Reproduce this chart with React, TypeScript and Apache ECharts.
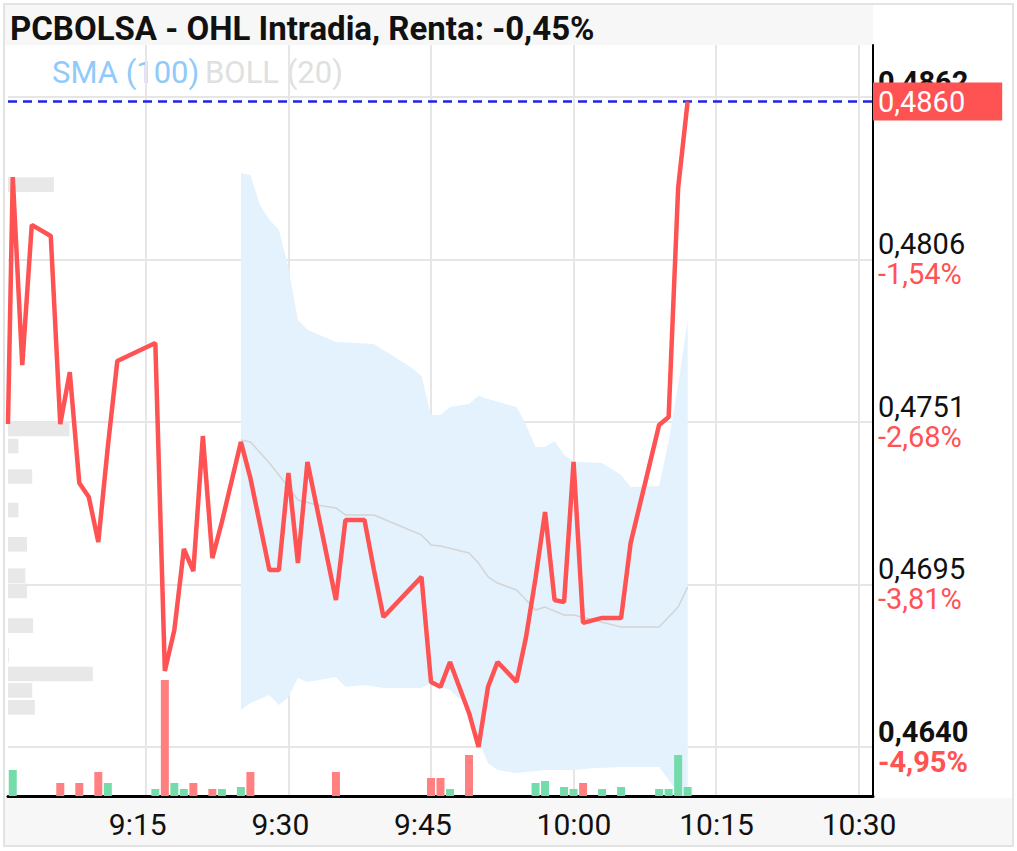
import React, { useEffect, useRef } from "react";
import * as echarts from "echarts";

const TITLE = "PCBOLSA - OHL Intradia, Renta: -0,45%";
const LEGEND_SMA = "SMA (100)";
const LEGEND_BOLL = "BOLL (20)";

// minutes since 9:00
const xTickValues = [15, 30, 45, 60, 75, 90];
const xTickLabels = ["9:15", "9:30", "9:45", "10:00", "10:15", "10:30"];

const yTickValues = [0.464, 0.46954, 0.47508, 0.48062, 0.48616];
const yTickLabels = ["0,4640", "0,4695", "0,4751", "0,4806", "0,4862"];
const yTickPercents = ["-4,95%", "-3,81%", "-2,68%", "-1,54%", " "];
const yTickBold = [true, false, false, false, true];

const lastPrice = 0.486;
const lastPriceLabel = "0,4860";

const pricePoints: [number, number][] = [
  [0.5, 0.47501], [1, 0.48343], [2, 0.47702], [3, 0.4818], [5, 0.48142], [6, 0.47501],
  [7, 0.47678], [8, 0.473], [9, 0.47252], [10, 0.47099], [11, 0.47423], [12, 0.47716],
  [16, 0.47777], [17, 0.46659], [18, 0.46799], [19, 0.47075], [20, 0.47], [21, 0.4746],
  [22, 0.47044], [23, 0.47167], [25, 0.4744], [26, 0.47317], [28, 0.47003], [29, 0.47003],
  [30, 0.47334], [31, 0.47027], [32, 0.47372], [35, 0.46901], [36, 0.47174], [38, 0.47174],
  [39, 0.47003], [40, 0.46843], [44, 0.4698], [45, 0.46622], [46, 0.46605], [47, 0.4669],
  [49, 0.46516], [50, 0.464], [51, 0.46605], [52, 0.4669], [54, 0.46622], [55, 0.46775],
  [56, 0.46976], [57, 0.47201], [58, 0.46901], [59, 0.46894], [60, 0.47372], [61, 0.46823],
  [63, 0.4684], [65, 0.4684], [66, 0.47095], [69, 0.47498], [70, 0.47525], [71, 0.48306],
  [72, 0.486],
];

const bollUpper: [number, number][] = [
  [25, 0.48357], [26, 0.4835], [27, 0.48248], [28, 0.48197], [29, 0.48163], [30, 0.48033],
  [31, 0.47856], [32, 0.47822], [35, 0.47781], [39, 0.47774], [40, 0.47753], [43, 0.47692],
  [44, 0.47665], [45, 0.47532], [46, 0.47532], [47, 0.47559], [49, 0.47569], [50, 0.47597],
  [51, 0.47586], [54, 0.47559], [55, 0.47498], [56, 0.47423], [57, 0.47423], [58, 0.47443],
  [59, 0.47396], [60, 0.47372], [63, 0.47368], [65, 0.47327], [66, 0.47286], [69, 0.4729],
  [70, 0.4744], [71, 0.47634], [72, 0.47856],
];

const bollLower: [number, number][] = [
  [25, 0.46526], [26, 0.4655], [28, 0.46577], [29, 0.46543], [30, 0.4657], [31, 0.46635],
  [32, 0.46622], [35, 0.46639], [36, 0.46605], [38, 0.46611], [40, 0.46601], [44, 0.46601],
  [45, 0.46618], [47, 0.46594], [49, 0.46536], [50, 0.46424], [51, 0.46345], [52, 0.46322],
  [54, 0.46311], [57, 0.46322], [60, 0.46322], [62, 0.46328], [65, 0.46332], [69, 0.46332],
  [70, 0.46288], [71, 0.46243], [72, 0.4622],
];

const bollMiddle: [number, number][] = [
  [25, 0.47447], [26, 0.4744], [28, 0.47368], [30, 0.47286], [31, 0.47242], [33, 0.47225],
  [35, 0.47215], [36, 0.47191], [39, 0.47191], [42, 0.4715], [44, 0.47123], [45, 0.47089],
  [46, 0.47085], [49, 0.47061], [50, 0.47027], [51, 0.4698], [52, 0.46959], [54, 0.46935],
  [56, 0.46867], [57, 0.46877], [59, 0.4685], [60, 0.4685], [65, 0.46809], [69, 0.46809],
  [71, 0.46877], [72, 0.46945],
];

// volume per minute (up = green, down = red)
const volumeUp: [number, number][] = [
  [1, 26], [11, 13], [16, 7], [18, 13], [19, 7], [23, 7], [25, 9], [47, 7], [56, 13],
  [57, 15], [59, 9], [60, 7], [63, 7], [65, 9], [69, 7], [70, 7], [71, 41], [72, 9],
];
const volumeDown: [number, number][] = [
  [6, 13], [8, 13], [10, 24], [17, 116], [20, 13], [22, 7], [26, 24], [35, 24], [45, 18],
  [46, 18], [49, 41], [61, 13],
];

// volume profile: [volume, price level]
const profileBins: [number, number][] = [
  [53, 0.48317], [71, 0.47484], [12, 0.47426], [28, 0.47322], [12, 0.47208], [22, 0.47091],
  [20, 0.46984], [22, 0.46932], [29, 0.46814], [1, 0.46713], [98, 0.46649], [28, 0.46593],
  [31, 0.46535],
];
const PROFILE_BIN = 0.0005;

const X_MIN = 0.5;
const X_MAX = 91.5;

const FONT = "Roboto";

const hiddenAxis = {
  show: false,
  axisLine: { show: false, onZero: false },
  axisTick: { show: false },
  axisLabel: { show: false },
  splitLine: { show: false },
};

export default function App() {
  const ref = useRef<HTMLDivElement>(null);
  useEffect(() => {
    document.body.style.margin = "0";
    if (!ref.current) return;
    const chart = echarts.init(ref.current, undefined, { renderer: "svg" });
    const option: any = {
      animation: false,
      backgroundColor: "#ffffff",
      grid: [{ left: 8, right: 144, top: 45, bottom: 55 }],
      xAxis: [
        {
          type: "value",
          min: X_MIN,
          max: X_MAX,
          axisLine: { show: true, onZero: false, lineStyle: { color: "#000", width: 3 } },
          axisTick: { show: false, customValues: xTickValues },
          axisLabel: {
            customValues: xTickValues,
            formatter: (v: number) => {
              const i = xTickValues.findIndex((t) => Math.abs(t - v) < 1e-6);
              return i >= 0 ? `{t|${xTickLabels[i]}}` : "";
            },
            rich: {
              t: { width: 74, align: "left", color: "#111", fontSize: 30, fontFamily: FONT },
            },
            color: "#111",
            fontSize: 30,
            fontFamily: FONT,
            margin: 13,
          },
          splitLine: { show: true, lineStyle: { color: "#e6e6e6", width: 2 } },
        },
        { type: "value", gridIndex: 0, min: 0, max: 1000, ...hiddenAxis },
      ],
      yAxis: [
        {
          type: "value",
          position: "right",
          min: 0.46233,
          max: 0.48793,
          axisLine: { show: true, onZero: false, lineStyle: { color: "#000", width: 2 } },
          axisTick: { show: false, customValues: yTickValues },
          axisLabel: {
            customValues: yTickValues,
            align: "left",
            margin: 5,
            formatter: (v: number) => {
              const i = yTickValues.findIndex((t) => Math.abs(t - v) < 1e-7);
              if (i < 0) return "";
              if (yTickBold[i]) return `{vb|${yTickLabels[i]}}\n{pb|${yTickPercents[i]}}`;
              return `{v|${yTickLabels[i]}}\n{p|${yTickPercents[i]}}`;
            },
            rich: {
              v: { color: "#111", fontSize: 29, lineHeight: 30, fontFamily: FONT },
              p: { color: "#ff5252", fontSize: 29, lineHeight: 30, fontFamily: FONT },
              vb: { color: "#111", fontSize: 29, lineHeight: 30, fontFamily: FONT, fontWeight: "bold" },
              pb: { color: "#ff5252", fontSize: 29, lineHeight: 30, fontFamily: FONT, fontWeight: "bold" },
            },
          },
          splitLine: { show: true, lineStyle: { color: "#e6e6e6", width: 2 } },
        },
        { type: "value", gridIndex: 0, min: 0, max: 751, ...hiddenAxis },
      ],
      graphic: [
        { type: "rect", z: -10, silent: true, shape: { x: 5, y: 5, width: 868, height: 40 }, style: { fill: "#f7f7f7" } },
        { type: "rect", z: -10, silent: true, shape: { x: 5, y: 798, width: 1007, height: 47 }, style: { fill: "#f7f7f7" } },
        { type: "rect", z: -9, silent: true, shape: { x: 4, y: 4, width: 1009, height: 842 }, style: { fill: "none", stroke: "#e3e3e3", lineWidth: 2 } },
        { type: "text", x: 10, y: 28, silent: true, style: { text: TITLE, fill: "#111", fontSize: 33, fontWeight: "bold", fontFamily: FONT, textVerticalAlign: "middle" } },
        { type: "text", x: 52, y: 72, silent: true, style: { text: LEGEND_SMA, fill: "#90caf9", fontSize: 31, fontFamily: FONT, textVerticalAlign: "middle" } },
        { type: "text", x: 205, y: 72, silent: true, style: { text: LEGEND_BOLL, fill: "#e0e0e0", fontSize: 31, fontFamily: FONT, textVerticalAlign: "middle" } },
      ],
      series: [
        {
          type: "custom",
          name: "BOLL band",
          xAxisIndex: 0,
          yAxisIndex: 0,
          silent: true,
          clip: true,
          z: 1,
          data: [[0, 0]],
          renderItem: (_params: any, api: any) => {
            const pts = bollUpper.map((p) => api.coord(p)).concat(bollLower.slice().reverse().map((p) => api.coord(p)));
            return { type: "polygon", shape: { points: pts }, style: { fill: "#e3f2fd" } };
          },
        },
        {
          type: "line",
          name: "BOLL mid",
          data: bollMiddle,
          xAxisIndex: 0,
          yAxisIndex: 0,
          symbol: "none",
          silent: true,
          z: 2,
          lineStyle: { color: "#d4d4d4", width: 1.5 },
        },
        {
          type: "custom",
          name: "Profile",
          xAxisIndex: 1,
          yAxisIndex: 0,
          silent: true,
          z: 2,
          data: profileBins,
          renderItem: (_params: any, api: any) => {
            const vol = api.value(0);
            const price = api.value(1);
            const a = api.coord([0, price + PROFILE_BIN / 2]);
            const b = api.coord([vol, price - PROFILE_BIN / 2]);
            return { type: "rect", shape: { x: a[0], y: a[1], width: b[0] - a[0], height: b[1] - a[1] }, style: { fill: "#e8e8e8" } };
          },
        },
        {
          type: "bar",
          name: "Vol up",
          xAxisIndex: 0,
          yAxisIndex: 1,
          data: volumeUp,
          barWidth: 8,
          barGap: "-100%",
          silent: true,
          z: 3,
          itemStyle: { color: "#74dcab" },
        },
        {
          type: "bar",
          name: "Vol down",
          xAxisIndex: 0,
          yAxisIndex: 1,
          data: volumeDown,
          barWidth: 8,
          barGap: "-100%",
          silent: true,
          z: 3,
          itemStyle: { color: "#ff8080" },
        },
        {
          type: "line",
          name: "Último",
          data: [[X_MIN, lastPrice], [X_MAX, lastPrice]],
          xAxisIndex: 0,
          yAxisIndex: 0,
          symbol: "none",
          silent: true,
          clip: false,
          z: 4,
          lineStyle: { color: "#2222e6", type: [9, 6], width: 2.5 },
          endLabel: {
            show: true,
            distance: 0,
            formatter: () => lastPriceLabel,
            color: "#fff",
            backgroundColor: "#ff5252",
            fontSize: 29,
            fontFamily: FONT,
            lineHeight: 30,
            padding: [4, 37, 4, 5],
          },
        },
        {
          type: "line",
          name: "Precio",
          data: pricePoints,
          xAxisIndex: 0,
          yAxisIndex: 0,
          symbol: "none",
          z: 5,
          lineStyle: { color: "#ff5252", width: 4.5 },
        },
      ],
    };
    chart.setOption(option);
    return () => chart.dispose();
  }, []);
  return <div ref={ref} style={{ width: 1017, height: 851 }} />;
}
